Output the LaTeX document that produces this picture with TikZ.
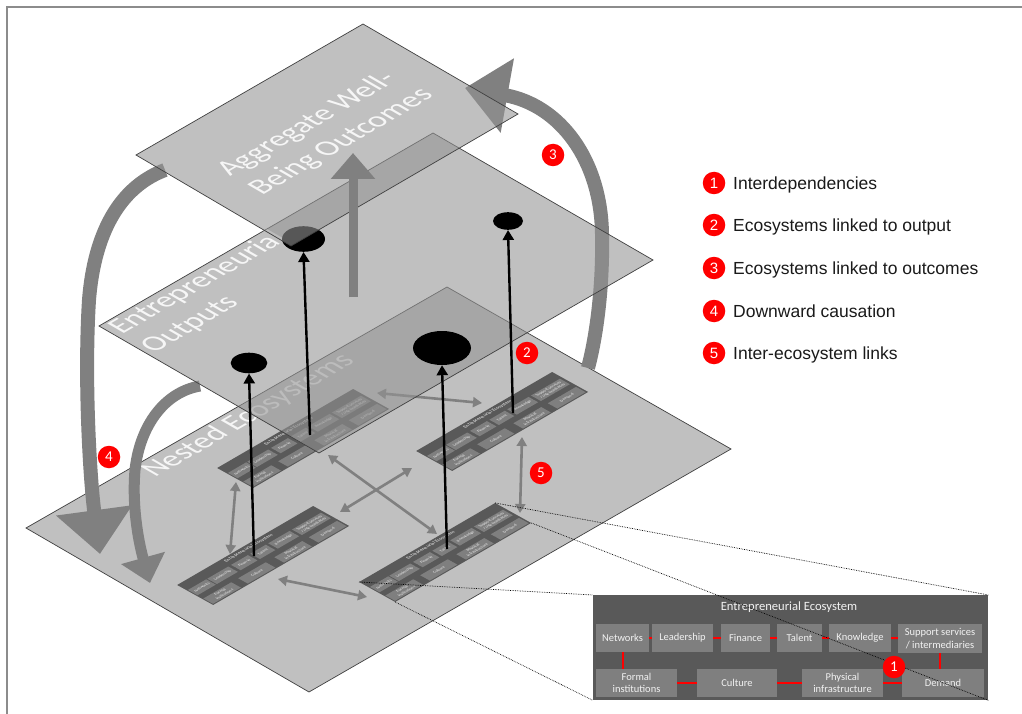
\documentclass[tikz,border=0pt]{standalone}
\usepackage{fontspec}
\setmainfont{Carlito}
\newfontfamily\arialfont{Liberation Sans}
\usetikzlibrary{arrows.meta,shapes.geometric}
\definecolor{planefill}{RGB}{148,148,148}
\definecolor{planeedge}{RGB}{64,64,64}
\definecolor{arrgray}{RGB}{128,128,128}
\definecolor{ecodark}{RGB}{89,89,89}
\definecolor{ecocell}{RGB}{127,127,127}
\definecolor{ecotext}{RGB}{242,242,242}
\definecolor{framegray}{RGB}{140,140,140}
\definecolor{legtext}{RGB}{26,26,26}
\definecolor{labelwhite}{RGB}{246,246,246}
\tikzset{
  plane/.style={fill=planefill, fill opacity=0.59, draw=planeedge, line width=0.7pt, line join=miter},
  planelabel/.style={transform shape, anchor=base west, inner sep=0pt, text=labelwhite, font=\fontsize{30}{36}\selectfont},
  ecocellst/.style={transform shape, fill=ecocell, inner sep=0pt, text=ecotext, align=center, font=\fontsize{10.5}{12.5}\selectfont, minimum height=28pt},
  ecolink/.style={draw=red, line width=2pt},
  ecotitle/.style={transform shape, inner sep=0pt, text=ecotext, font=\fontsize{12.6}{15}\selectfont},
  badge/.style={circle, fill=red, inner sep=0pt, minimum size=22.5pt, text=white, font=\fontsize{15}{15}\selectfont},
  legbadge/.style={badge, font=\arialfont\fontsize{15}{15}\selectfont},
  legtxt/.style={anchor=base west, inner sep=0pt, text=legtext, font=\arialfont\fontsize{17.5}{20}\selectfont},
  blob/.style={ellipse, fill=black, inner sep=0pt},
  outarrow/.style={draw=black, line width=2.4pt, -{Triangle[length=10pt,width=11pt]}},
  linkarrow/.style={draw=arrgray, line width=2.6pt, {Triangle[length=9pt,width=10pt]}-{Triangle[length=9pt,width=10pt]}},
  bigarrow/.style={draw=arrgray, line cap=butt},
  zoomline/.style={draw=black, densely dotted, line width=0.7pt},
}
\newcommand{\EcoBox}{%
  \node[transform shape, fill=ecodark, inner sep=0pt, minimum width=395pt, minimum height=105pt, anchor=north west] (box) at (0,0) {};
  \node[ecotitle] (ttl) at (196,12) {Entrepreneurial Ecosystem};
  \node[ecocellst, minimum width=53pt] (net) at (29.5,43) {Networks};
  \node[ecocellst, minimum width=61pt] (lead) at (89.5,43) {Leadership};
  \node[ecocellst, minimum width=49pt] (fin) at (152.5,43) {Finance};
  \node[ecocellst, minimum width=45pt] (tal) at (206.5,43) {Talent};
  \node[ecocellst, minimum width=62pt] (know) at (267,43) {Knowledge};
  \node[ecocellst, minimum width=84pt, minimum height=29pt] (sup) at (347,43.5) {Support services\\/ intermediaries};
  \node[ecocellst, minimum width=81pt] (form) at (43.5,88) {Formal\\institutions};
  \node[ecocellst, minimum width=80pt] (cult) at (144,88) {Culture};
  \node[ecocellst, minimum width=81pt] (phys) at (249.5,88) {Physical\\infrastructure};
  \node[ecocellst, minimum width=82pt] (dem) at (350,88) {Demand};
  \draw[ecolink] (net) -- (lead);
  \draw[ecolink] (lead) -- (fin);
  \draw[ecolink] (fin) -- (tal);
  \draw[ecolink] (tal) -- (know);
  \draw[ecolink] (know) -- (sup);
  \draw[ecolink] (form) -- (cult);
  \draw[ecolink] (cult) -- (phys);
  \draw[ecolink] (phys) -- (dem);
  \draw[ecolink] (net.south) -- ++(0,17);
  \draw[ecolink] (sup.south) -- ++(0,16);
}
\begin{document}
\begin{tikzpicture}[x=1pt,y=-1pt]
\useasboundingbox (0,0) rectangle (1022,714);
\fill[white] (0,0) rectangle (1022,714);
\draw[framegray, line width=1.5pt] (1022,7) -- (7,7) -- (7,714);

% ---- bottom plane: Nested Ecosystems
\path[plane] (447,287) -- (731,449) -- (309,692) -- (26,528) -- cycle;
\begin{scope}[cm={0.866,0.5,-0.866,0.5,(155,478)}]
  \node[planelabel] (lblN) at (0,0) {Nested Ecosystems};
\end{scope}

% ---- mini ecosystems
\begin{scope}[cm={0.3443,0.2,-0.343,0.19,(217,468)}, name prefix=m1-, ecolink/.style={draw=ecodark, line width=0.4pt}]
  \EcoBox
\end{scope}
\begin{scope}[cm={0.3443,0.2,-0.343,0.19,(416,451)}, name prefix=m2-, ecolink/.style={draw=ecodark, line width=0.4pt}]
  \EcoBox
\end{scope}
\begin{scope}[cm={0.3443,0.2,-0.343,0.19,(177,585)}, name prefix=m3-, ecolink/.style={draw=ecodark, line width=0.4pt}]
  \EcoBox
\end{scope}
\begin{scope}[cm={0.3443,0.2,-0.343,0.19,(359,582)}, name prefix=m4-, ecolink/.style={draw=ecodark, line width=0.4pt}]
  \EcoBox
\end{scope}

% ---- inter-ecosystem links
\coordinate (g1a) at (377,393); \coordinate (g1b) at (482,403);
\coordinate (g2a) at (236,482); \coordinate (g2b) at (230,554);
\coordinate (g3a) at (522,437); \coordinate (g3b) at (520,513);
\coordinate (g4a) at (278,579); \coordinate (g4b) at (367,597);
\coordinate (g5a) at (328,455); \coordinate (g5b) at (437,534);
\coordinate (g6a) at (340,512); \coordinate (g6b) at (412,468);
\draw[linkarrow] (g1a) -- (g1b);
\draw[linkarrow] (g2a) -- (g2b);
\draw[linkarrow] (g3a) -- (g3b);
\draw[linkarrow] (g4a) -- (g4b);
\draw[linkarrow] (g5a) -- (g5b);
\draw[linkarrow] (g6a) -- (g6b);

% ---- big curved arrows
\coordinate (a3t) at (588,368); \coordinate (a3m) at (602,234); \coordinate (a3h) at (465,88);
\draw[bigarrow, line width=14pt, -{Triangle[length=43pt,width=73pt]}] (a3t) .. controls (598,330) and (603,280) .. (a3m) .. controls (601,160) and (560,105) .. (a3h);
\coordinate (a4t) at (165,170); \coordinate (a4m) at (89,300); \coordinate (a4h) at (100,554);
\draw[bigarrow, line width=14pt, -{Triangle[length=44pt,width=74pt]}] (a4t) .. controls (125,185) and (95,225) .. (a4m) .. controls (84,380) and (90,480) .. (a4h);
\coordinate (a5t) at (200,386); \coordinate (a5m) at (135,470); \coordinate (a5h) at (150,583);
\draw[bigarrow, line width=11pt, -{Triangle[length=26pt,width=44pt]}] (a5t) .. controls (165,392) and (140,425) .. (a5m) .. controls (132,505) and (138,540) .. (a5h);

% ---- middle plane: Entrepreneurial Outputs
\path[plane] (433,133) -- (653,260) -- (319,453) -- (99,326) -- cycle;
\begin{scope}[cm={0.866,0.5,-0.866,0.5,(122,335)}]
  \node[planelabel] (lblO1) at (0,0) {Entrepreneurial};
  \node[planelabel] (lblO2) at (0,37) {Outputs};
\end{scope}

% ---- outputs
\node[blob, minimum width=43pt, minimum height=25.6pt] (e1) at (303.5,239) {};
\node[blob, minimum width=30pt, minimum height=17.6pt] (e2) at (508,221) {};
\node[blob, minimum width=36.6pt, minimum height=20.6pt] (e3) at (249,363) {};
\node[blob, minimum width=58pt, minimum height=34pt] (e4) at (442,348) {};
\coordinate (s1) at (310,435);
\coordinate (s2) at (513,413);
\coordinate (s3) at (254,556);
\coordinate (s4) at (447,549);
\draw[outarrow] (s1) -- (e1.south);
\draw[outarrow] (s2) -- (e2.south);
\draw[outarrow] (s3) -- (e3.south);
\draw[outarrow] (s4) -- (e4.south);

% ---- top plane: Aggregate Well-Being Outcomes
\path[plane] (363,24) -- (518,114) -- (291,246) -- (136,155) -- cycle;
\begin{scope}[cm={0.866,0.5,-0.866,0.5,(230,177)}]
  \node[planelabel] (lblA1) at (0,0) {Aggregate Well-};
  \node[planelabel] (lblA2) at (0,37) {Being Outcomes};
\end{scope}

% ---- upward arrow
\coordinate (upt) at (353,297); \coordinate (uph) at (353,153);
\draw[bigarrow, line width=9pt, -{Triangle[length=26pt,width=43pt]}] (upt) -- (uph);

% ---- zoom lines and detailed ecosystem
\begin{scope}[shift={(593,595)}, name prefix=big-]
  \EcoBox
\end{scope}
\draw[zoomline] (m4-box.north west) -- (big-box.north west);
\draw[zoomline] (m4-box.north east) -- (big-box.north east);
\draw[zoomline] (m4-box.south west) -- (big-box.south west);
\draw[zoomline] (m4-box.south east) -- (big-box.south east);
\node[badge] (b1) at (894,667) {1};

% ---- number badges
\node[badge] (b2) at (527,353) {2};
\node[badge] (b3) at (553,155) {3};
\node[badge] (b4) at (109,457) {4};
\node[badge] (b5) at (541,473) {5};

% ---- legend
\node[legbadge] (l1) at (714,183) {1};
\node[legbadge] (l2) at (714,225) {2};
\node[legbadge] (l3) at (714,268) {3};
\node[legbadge] (l4) at (714,311) {4};
\node[legbadge] (l5) at (714,353) {5};
\node[legtxt] (t1) at (733,189.3) {Interdependencies};
\node[legtxt] (t2) at (733,231.3) {Ecosystems linked to output};
\node[legtxt] (t3) at (733,274.3) {Ecosystems linked to outcomes};
\node[legtxt] (t4) at (733,317.3) {Downward causation};
\node[legtxt] (t5) at (733,359.3) {Inter-ecosystem links};
\end{tikzpicture}
\end{document}
